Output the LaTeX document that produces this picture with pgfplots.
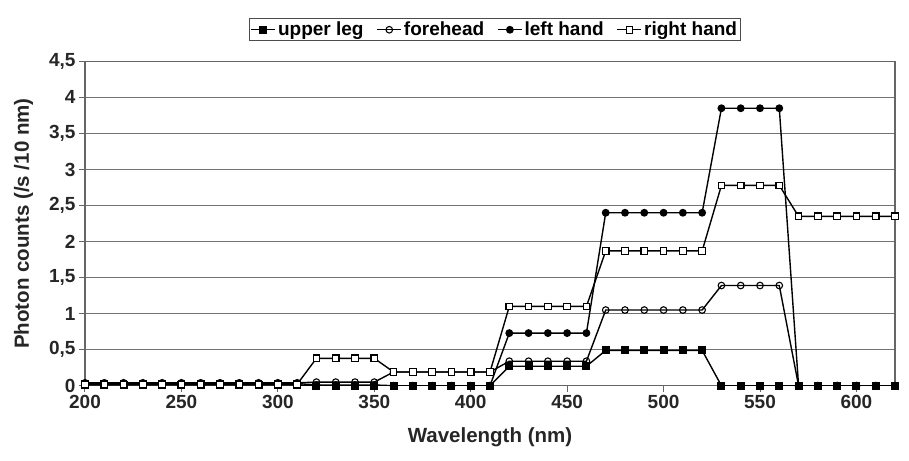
\documentclass[border=0pt]{standalone}
\usepackage{fontspec}
\setmainfont{Liberation Sans}
\usepackage{pgfplots}
\pgfplotsset{compat=1.18}
\usepackage{pgfplotstable}

% wavelength, upper leg, forehead, left hand, right hand
\pgfplotstableread{
x   ul    fh    lh    rh
200 0.01  0.04  0.03  0.02
210 0.01  0.04  0.03  0.02
220 0.01  0.04  0.03  0.02
230 0.01  0.04  0.03  0.02
240 0.01  0.04  0.03  0.02
250 0.01  0.04  0.03  0.02
260 0.01  0.04  0.03  0.02
270 0.01  0.04  0.03  0.02
280 0.01  0.04  0.03  0.02
290 0.01  0.04  0.03  0.02
300 0.01  0.04  0.03  0.02
310 0.01  0.04  0.03  0.02
320 0.00  0.05  0.01  0.38
330 0.00  0.05  0.01  0.38
340 0.00  0.05  0.01  0.38
350 0.00  0.05  0.01  0.38
360 0.00  0.19  0.00  0.19
370 0.00  0.19  0.00  0.19
380 0.00  0.19  0.00  0.19
390 0.00  0.19  0.00  0.19
400 0.00  0.19  0.00  0.19
410 0.00  0.19  0.00  0.19
420 0.27  0.34  0.73  1.10
430 0.27  0.34  0.73  1.10
440 0.27  0.34  0.73  1.10
450 0.27  0.34  0.73  1.10
460 0.27  0.34  0.73  1.10
470 0.49  1.05  2.40  1.87
480 0.49  1.05  2.40  1.87
490 0.49  1.05  2.40  1.87
500 0.49  1.05  2.40  1.87
510 0.49  1.05  2.40  1.87
520 0.49  1.05  2.40  1.87
530 0.00  1.39  3.85  2.78
540 0.00  1.39  3.85  2.78
550 0.00  1.39  3.85  2.78
560 0.00  1.39  3.85  2.78
570 0.00  0.00  0.00  2.35
580 0.00  0.00  0.00  2.35
590 0.00  0.00  0.00  2.35
600 0.00  0.00  0.00  2.35
610 0.00  0.00  0.00  2.35
620 0.00  0.00  0.00  2.35
}\spectra

\begin{document}
\begin{tikzpicture}
\useasboundingbox (-85pt,-75pt) rectangle (824pt,385.7pt);
\begin{axis}[
  scale only axis,
  width=810pt, height=324.3pt,
  xmin=200, xmax=620,
  ymin=0, ymax=4.5,
  xtick={200,250,...,600},
  ytick={0,0.5,...,4.5},
  xtick pos=bottom, ytick pos=left,
  tick align=outside,
  major tick length=6pt,
  tick style={color=black!60, line width=1pt},
  axis line style={color=black!60, line width=1.2pt},
  ymajorgrids=true,
  grid style={color=black!55, line width=1.3pt},
  /pgf/number format/.cd, use comma, assume math mode=true,
  /pgfplots/.cd,
  ticklabel style={font=\bfseries\fontsize{19}{19}\selectfont, text=black!85},
  xlabel={Wavelength (nm)},
  ylabel={Photon counts (/s /10 nm)},
  label style={font=\bfseries\fontsize{20.5}{21}\selectfont, text=black!85},
  xlabel style={yshift=-12pt},
  ylabel style={yshift=9pt},
  legend columns=4,
  legend style={
    at={(0.506,1.062)}, anchor=south,
    draw=black!70, line width=0.8pt,
    font=\bfseries\fontsize{19}{19}\selectfont,
    inner sep=1.5pt,
    /tikz/every even column/.append style={column sep=11pt},
  },
  legend image code/.code={
    \draw[#1] (0pt,0pt) -- (24pt,0pt);
    \draw[#1, only marks] plot coordinates {(12pt,0pt)};
  },
  every axis plot/.append style={line width=1.4pt, black},
]
\addplot[mark=square*, mark size=3.3pt, mark options={fill=black}] table[x=x, y=ul] {\spectra};
\addlegendentry{upper leg}
\addplot[mark=o, mark size=3.3pt, mark options={fill=white, line width=1.1pt}] table[x=x, y=fh] {\spectra};
\addlegendentry{forehead}
\addplot[mark=*, mark size=3.2pt, mark options={fill=black}] table[x=x, y=lh] {\spectra};
\addlegendentry{left hand}
\addplot[mark=square*, mark size=3.3pt, mark options={fill=white, line width=1.1pt}] table[x=x, y=rh] {\spectra};
\addlegendentry{right hand}
\end{axis}
\end{tikzpicture}
\end{document}
